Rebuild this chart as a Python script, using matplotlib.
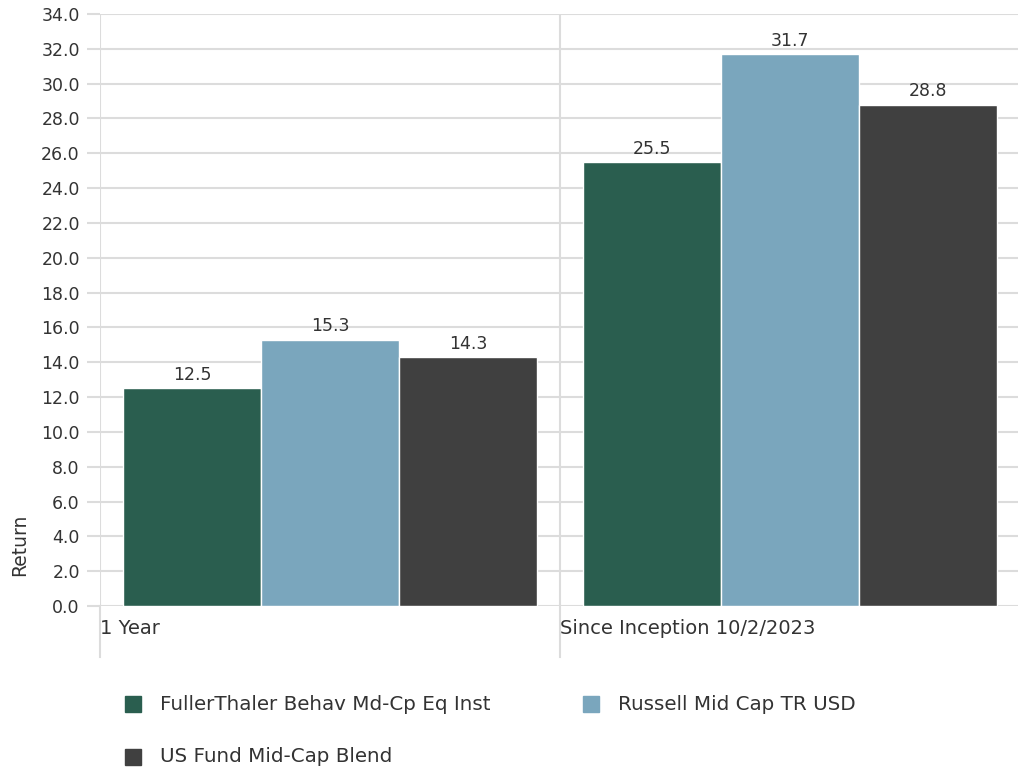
import matplotlib
matplotlib.use("Agg")
import matplotlib.pyplot as plt
import numpy as np

categories = ["1 Year", "Since Inception 10/2/2023"]
series_names = ["FullerThaler Behav Md-Cp Eq Inst", "Russell Mid Cap TR USD",
                "US Fund Mid-Cap Blend"]
fund = [12.5, 25.5]
index = [15.3, 31.7]
peers = [14.3, 28.8]
y_ticks = np.arange(0, 34.1, 2.0)

colors = ["#2a5e4f", "#7aa6bd", "#404040"]
grid_c = "#dcdcdc"
text_c = "#333333"

plt.rcParams["font.family"] = ["DejaVu Sans"]

fig = plt.figure(figsize=(10.18, 7.7), dpi=100)
W, H = 1018, 770
ax = fig.add_axes([100 / W, 1 - 606 / H, 920 / W, (606 - 14) / H])

# grouped bars, each category band is one unit wide
width = 0.3
x = np.arange(len(categories))
for k, (vals, c) in enumerate(zip([fund, index, peers], colors)):
    bars = ax.bar(x + 0.05 + k * width, vals, width, align="edge", color=c,
                  edgecolor="white", linewidth=1, zorder=3, label=series_names[k])
    ax.bar_label(bars, fmt="%.1f", padding=3, fontsize=12.5, color=text_c)

ax.set_xlim(0, len(categories))
ax.set_ylim(0, 34)
ax.set_yticks(y_ticks)
ax.set_yticklabels([f"{v:.1f}" for v in y_ticks], fontsize=12.5, color=text_c)
ax.yaxis.grid(True, color=grid_c, linewidth=1.5, zorder=0)
ax.tick_params(axis="y", length=9.5, width=1.5, color=grid_c, pad=5)
ax.set_xticks([])
for s in ax.spines.values():
    s.set_visible(False)

# category separators, running below the axis, with left-aligned labels
for i in range(len(categories)):
    ax.plot([i, i], [0, 34], color=grid_c, linewidth=1.5, zorder=1)
    xf = (100 + i * 460) / W
    fig.add_artist(plt.Line2D([xf, xf], [1 - 606 / H, 1 - 657 / H], color=grid_c,
                              linewidth=1.5))
    fig.text(xf, 1 - 628 / H, categories[i], fontsize=14, color=text_c,
             ha="left", va="center")

fig.text(20 / W, 1 - 545 / H, "Return", rotation=90, fontsize=13.5, color=text_c,
         ha="center", va="center")

# legend
pos = [(125, 704), (583, 704), (125, 757)]
for (px, py), name, c in zip(pos, series_names, colors):
    fig.patches.append(plt.Rectangle((px / W, 1 - (py + 8) / H), 16 / W, 16 / H,
                                     transform=fig.transFigure, color=c))
    fig.text((px + 35) / W, 1 - py / H, name, fontsize=14.3, color=text_c,
             ha="left", va="center")

fig.savefig("out.png", dpi=100)
